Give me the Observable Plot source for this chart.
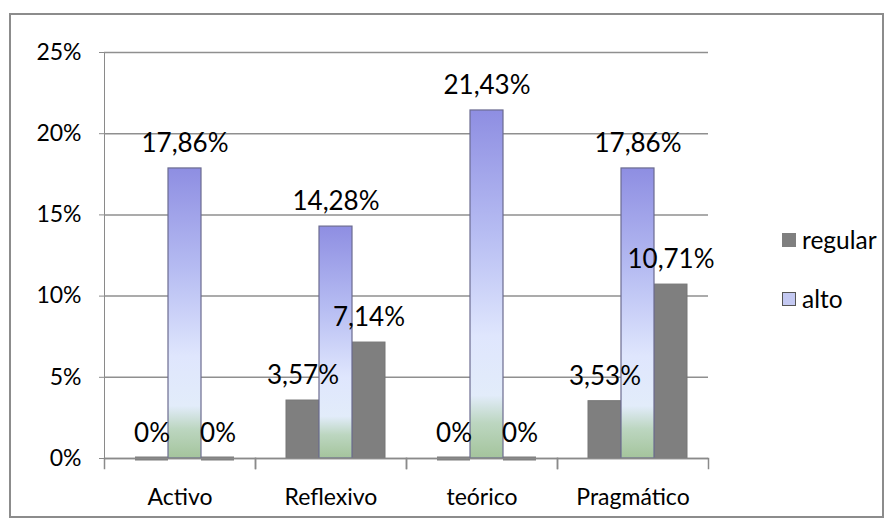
<!DOCTYPE html>
<html>
<head>
<meta charset="utf-8">
<script src="https://cdn.jsdelivr.net/npm/d3@7"></script>
<script src="https://cdn.jsdelivr.net/npm/@observablehq/plot@0.6"></script>
<style>
  html, body { margin: 0; padding: 0; background: #fff; }
  #wrap { position: relative; width: 887px; height: 526px; overflow: hidden; font-family: Lato, "Open Sans", sans-serif; }
  #border { position: absolute; left: 9px; top: 13px; width: 875px; height: 505px; border: 2px solid #8c8c8c; box-sizing: border-box; }
  #chart { position: absolute; left: 0; top: 0; }
  #chart svg { color: #8a8a8a; }
  #chart svg text { fill: #000; }
  .lg { position: absolute; left: 782px; font-size: 24.5px; color: #000; display: flex; align-items: center; }
  .sw { width: 14px; height: 14px; box-sizing: border-box; margin-right: 6px; }
</style>
</head>
<body>
<div id="wrap">
  <div id="border"></div>
  <div id="chart"></div>
  <div class="lg" style="top:225px"><div class="sw" style="background:#7f7f7f"></div>regular</div>
  <div class="lg" style="top:284px"><div class="sw" style="background:#c4c9f2;border:1.5px solid #555"></div>alto</div>
</div>
<script>
const categories = ["Activo", "Reflexivo", "teórico", "Pragmático"];
const seriesKeys = ["regular", "alto", "regular2"];
const regularValues = [0, 3.57, 0, 3.53];
const altoValues = [17.86, 14.28, 21.43, 17.86];
const regular2Values = [0, 7.14, 0, 10.71];
const yTicks = [0, 5, 10, 15, 20, 25];

const valuesBySeries = { regular: regularValues, alto: altoValues, regular2: regular2Values };
const data = [];
categories.forEach((c, i) => {
  seriesKeys.forEach(s => data.push({ category: c, series: s, value: valuesBySeries[s][i] }));
});
const fmt = v => v === 0 ? "0%" : v.toFixed(2).replace(".", ",") + "%";

const svg = Plot.plot({
  width: 887,
  height: 526,
  marginLeft: 103,
  marginRight: 179,
  marginTop: 52,
  marginBottom: 68,
  style: { fontFamily: "Lato, 'Open Sans', sans-serif", fontSize: "23px", background: "transparent", overflow: "visible" },
  fx: { domain: categories, padding: 0, label: null, axis: "bottom", tickSize: 0, tickPadding: 30 },
  x: { domain: seriesKeys, paddingInner: 0, paddingOuter: 0.74, axis: null, align: 0.6 },
  y: { domain: [0, 25], ticks: yTicks, tickFormat: d => d + "%", tickSize: 5, tickPadding: 18, label: null, line: true },
  marks: [
    Plot.ruleY(yTicks, { stroke: "#8f8f8f", strokeWidth: 1.5 }),
    Plot.frame({ anchor: "left", insetTop: 406, insetBottom: -10, stroke: "#8a8a8a", strokeWidth: 1.5 }),
    Plot.frame({ anchor: "right", insetTop: 406, insetBottom: -10, stroke: "#8a8a8a", strokeWidth: 1.5 }),
    Plot.barY(data.filter(d => d.series !== "alto"), { fx: "category", x: "series", y: "value", fill: "#7f7f7f", stroke: "#777", strokeWidth: 1 }),
    Plot.tickY(data.filter(d => d.series !== "alto" && d.value === 0), { fx: "category", x: "series", y: "value", stroke: "#7f7f7f", strokeWidth: 4 }),
    Plot.barY(data.filter(d => d.series === "alto"), { fx: "category", x: "series", y: "value", fill: "url(#altoGrad)", stroke: "#6c6c90", strokeWidth: 1.2 }),
    Plot.ruleY([0], { stroke: "#8a8a8a", strokeWidth: 1.5 }),
    Plot.text(data, { fx: "category", x: "series", y: "value", text: d => fmt(d.value), dy: -25, fill: "#000", fontSize: 26 })
  ]
});

const defs = d3.select(svg).insert("defs", ":first-child");
const g = defs.append("linearGradient").attr("id", "altoGrad").attr("x1", 0).attr("y1", 0).attr("x2", 0).attr("y2", 1);
[[0, "#8e8ee2"], [0.35, "#b6bcf2"], [0.65, "#dfe6fd"], [0.82, "#e2ecfa"], [0.9, "#bcd6c0"], [1, "#a4c49c"]]
  .forEach(([o, c]) => g.append("stop").attr("offset", o).attr("stop-color", c));

document.getElementById("chart").appendChild(svg);
</script>
</body>
</html>
